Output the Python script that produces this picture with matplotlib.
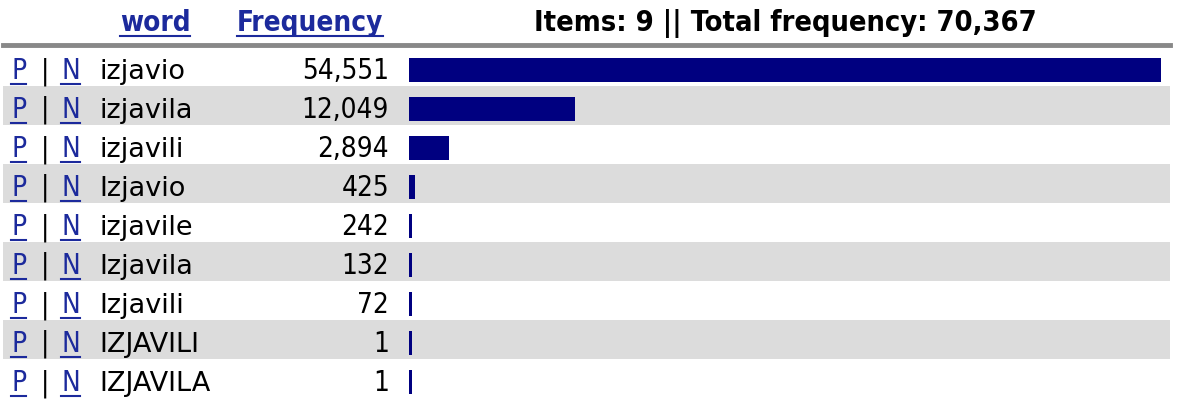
import matplotlib.pyplot as plt
import numpy as np

words = ['izjavio', 'izjavila', 'izjavili', 'Izjavio', 'izjavile',
         'Izjavila', 'Izjavili', 'IZJAVILI', 'IZJAVILA']
freqs = [54551, 12049, 2894, 425, 242, 132, 72, 1, 1]
total = 70367

link_color = '#1c2a9c'
bar_color = '#000080'
stripe = '#dcdcdc'
font = dict(family='DejaVu Sans', stretch='condensed')
fs = 20

W, H = 1178, 416
fig = plt.figure(figsize=(W / 100, H / 100), dpi=100)
ax = fig.add_axes([0, 0, 1, 1])
ax.set_xlim(0, W)
ax.set_ylim(H, 0)
ax.axis('off')

row_h = 39
top = 47
row_tops = top + row_h * np.arange(len(words))

# striped rows
for i, t in enumerate(row_tops):
    if i % 2 == 1:
        ax.axhspan(t, t + row_h, xmin=3 / W, xmax=1170 / W,
                   color=stripe, lw=0, zorder=0)

# header
ax.axhline(44.5, xmin=3 / W, xmax=1170 / W, color='#888888', lw=3.5)


def link(x, y, s, bold=False, ha='left'):
    return ax.text(x, y, s, color=link_color, fontsize=fs, ha=ha, va='baseline',
                   fontweight='bold' if bold else 'normal', **font)


hdr = [link(155, 31, 'word', bold=True, ha='center'),
       link(310, 31, 'Frequency', bold=True, ha='center')]
ax.text(785, 31, 'Items: %d || Total frequency: %s' % (len(words), f'{total:,}'),
        fontsize=20.8, fontweight='bold', ha='center', va='baseline', **font)

links = []
for w, f, t in zip(words, freqs, row_tops):
    y = t + 32
    links.append(link(11, y, 'P'))
    ax.text(45, y, '|', fontsize=fs, ha='center', va='baseline', **font)
    links.append(link(61, y, 'N'))
    ax.text(99, y, w, fontsize=19.5, ha='left', va='baseline', family='DejaVu Sans')
    ax.text(389, y, f'{f:,}', fontsize=fs, ha='right', va='baseline', **font)

# bars
scale = (1161 - 409) / max(freqs)
widths = [max(f * scale, 2.5) for f in freqs]
ax.barh(row_tops + 22.5, widths, left=409, height=24, color=bar_color)

# underline links
fig.canvas.draw()
r = fig.canvas.get_renderer()
inv = ax.transData.inverted()
for t in hdr + links:
    bb = t.get_window_extent(r)
    x0 = inv.transform((bb.x0, 0))[0]
    x1 = inv.transform((bb.x1, 0))[0]
    yb = t.get_position()[1] + 4.5
    ax.plot([x0, x1], [yb, yb], color=link_color, lw=1.5)

fig.savefig('out.png', dpi=100)
